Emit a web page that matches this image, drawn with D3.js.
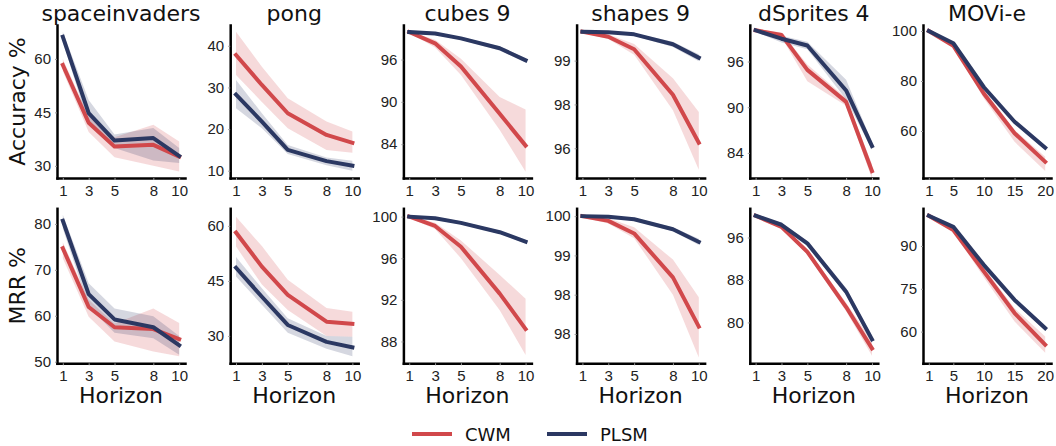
<!doctype html>
<html>
  <head>
    <meta charset="utf-8">
    <title>CWM vs PLSM</title>
    <script src="https://cdn.jsdelivr.net/npm/d3@7"></script>
    <style>
      html, body { margin:0; padding:0; overflow:hidden; background:#fff }
      svg { font-family: "DejaVu Sans", sans-serif; }
      .axis path { stroke:#000; stroke-width:2.5; stroke-linecap:square }
      .axis line { stroke:#999; stroke-width:1 }
      .axis text { font-size:15px; fill:#222 }
    </style>
  </head>
  <body>
    <div id="chart"></div>
    <script>
      var W = 1056, H = 446;
      var CWM_COLOR = "#d1484b", PLSM_COLOR = "#2b3862";

      var titles = ["spaceinvaders", "pong", "cubes 9", "shapes 9", "dSprites 4", "MOVi-e"];
      var rowLabels = ["Accuracy %", "MRR %"];
      var horizons = [
        [1, 3, 5, 8, 10], [1, 3, 5, 8, 10], [1, 3, 5, 8, 10],
        [1, 3, 5, 8, 10], [1, 3, 5, 8, 10], [1, 5, 10, 15, 20]
      ];

      // accuracy row
      var accCwm = [
        [58.3, 42.1, 35.4, 35.9, 32.6],
        [37.8, 30.6, 23.8, 18.6, 16.7],
        [99.9, 98.3, 95.0, 88.3, 83.8],
        [99.99, 99.82, 99.39, 97.83, 96.19],
        [100.1, 99.5, 94.9, 90.7, 81.6],
        [100.0, 94.1, 74.9, 59.1, 47.7]
      ];
      var accCwmLo = [
        [56.5, 39.5, 32.4, 30.0, 28.4],
        [33.0, 26.5, 20.2, 15.0, 14.3],
        [99.8, 97.7, 93.8, 86.0, 80.1],
        [99.95, 99.74, 99.2, 97.3, 95.26],
        [99.9, 99.2, 93.4, 90.2, 80.6],
        [99.8, 93.5, 73.0, 55.7, 44.0]
      ];
      var accCwmHi = [
        [60.0, 44.0, 38.0, 41.5, 36.8],
        [43.4, 35.0, 27.4, 21.8, 19.4],
        [100.0, 98.8, 96.1, 90.7, 88.9],
        [100.0, 99.9, 99.57, 98.4, 97.24],
        [100.3, 99.8, 95.6, 91.2, 82.5],
        [100.2, 94.7, 76.5, 60.4, 49.7]
      ];
      var accPlsm = [
        [66.2, 44.8, 37.1, 37.8, 32.8],
        [28.3, 21.8, 15.0, 12.3, 11.2],
        [99.9, 99.7, 99.0, 97.6, 95.9],
        [99.99, 99.97, 99.9, 99.56, 99.1],
        [100.1, 99.0, 98.1, 92.2, 84.9],
        [100.0, 95.1, 77.5, 63.7, 53.3]
      ];
      var accPlsmLo = [
        [64.8, 41.5, 35.0, 31.5, 30.8],
        [25.0, 20.2, 14.0, 11.3, 10.0],
        [99.8, 99.5, 98.8, 97.3, 95.6],
        [99.96, 99.93, 99.85, 99.47, 98.98],
        [99.9, 98.5, 97.6, 91.0, 84.4],
        [99.8, 94.6, 76.8, 62.9, 52.4]
      ];
      var accPlsmHi = [
        [67.6, 48.5, 38.8, 40.6, 35.0],
        [31.8, 23.8, 16.2, 13.2, 12.4],
        [100.0, 99.9, 99.2, 97.9, 96.2],
        [100.0, 100.0, 99.95, 99.65, 99.22],
        [100.3, 99.4, 98.6, 93.6, 85.4],
        [100.2, 95.6, 78.2, 64.5, 54.2]
      ];
      var accDomains = [[26.6, 69.5], [8.25, 45], [79.2, 100.9], [94.98, 100.22], [80.7, 100.8], [41.2, 102.4]];
      var accTicks = [[30, 45, 60], [10, 20, 30, 40], [84, 90, 96], [96, 97.5, 99], [84, 90, 96], [60, 80, 100]];
      var accTickLabels = [["30", "45", "60"], ["10", "20", "30", "40"], ["84", "90", "96"], ["96", "98", "99"], ["84", "90", "96"], ["60", "80", "100"]];

      // MRR row
      var mrrCwm = [
        [74.7, 61.9, 57.5, 57.1, 54.9],
        [58.2, 48.9, 41.2, 33.9, 33.3],
        [100, 99.1, 97.1, 92.6, 89.2],
        [100, 99.91, 99.67, 98.83, 97.89],
        [100.1, 98.0, 93.3, 82.9, 75.1],
        [100.6, 95.6, 81.0, 66.5, 55.4]
      ];
      var mrrCwmLo = [
        [72.5, 59.8, 54.4, 52.2, 51.2],
        [54.4, 44.0, 37.1, 30.0, 29.8],
        [99.9, 98.8, 96.0, 91.0, 86.7],
        [99.98, 99.86, 99.58, 98.5, 97.3],
        [99.9, 97.6, 92.8, 82.1, 73.7],
        [100.2, 95.0, 79.0, 63.5, 52.6]
      ];
      var mrrCwmHi = [
        [76.0, 63.5, 58.3, 61.6, 58.4],
        [62.5, 54.5, 45.3, 37.6, 36.6],
        [100.1, 99.4, 97.7, 94.4, 92.1],
        [100.02, 99.96, 99.79, 99.17, 98.45],
        [100.3, 98.4, 93.8, 83.7, 76.5],
        [101.0, 96.2, 82.5, 68.2, 58.3]
      ];
      var mrrPlsm = [
        [80.7, 64.7, 59.2, 57.5, 53.6],
        [48.6, 40.7, 33.0, 28.4, 26.9],
        [100, 99.84, 99.4, 98.5, 97.6],
        [100, 99.99, 99.94, 99.75, 99.51],
        [100.1, 98.4, 94.9, 85.8, 76.8],
        [100.6, 96.7, 83.3, 71.1, 61.2]
      ];
      var mrrPlsmLo = [
        [79.0, 62.0, 56.3, 55.1, 51.5],
        [46.2, 38.5, 30.9, 26.5, 24.5],
        [99.9, 99.7, 99.25, 98.35, 97.45],
        [99.98, 99.97, 99.91, 99.71, 99.45],
        [99.9, 98.0, 94.4, 85.1, 76.1],
        [100.2, 96.2, 82.6, 70.3, 60.3]
      ];
      var mrrPlsmHi = [
        [82.0, 67.1, 61.6, 59.9, 55.6],
        [51.5, 43.0, 34.8, 30.0, 29.8],
        [100.1, 99.95, 99.55, 98.65, 97.75],
        [100.02, 100.01, 99.97, 99.79, 99.57],
        [100.3, 98.8, 95.4, 86.5, 77.5],
        [101.0, 97.2, 84.0, 71.9, 62.1]
      ];
      var mrrDomains = [[49.65, 83.4], [22.55, 64.8], [85.9, 100.8], [97.19, 100.15], [72.3, 101.5], [48.9, 103.2]];
      var mrrTicks = [[50, 60, 70, 80], [30, 45, 60], [88, 92, 96, 100], [97.75, 98.5, 99.25, 100], [80, 88, 96], [60, 75, 90]];
      var mrrTickLabels = [["50", "60", "70", "80"], ["30", "45", "60"], ["88", "92", "96", "100"], ["98", "98", "99", "100"], ["80", "88", "96"], ["60", "75", "90"]];

      var rows = [
        {cwm: accCwm, cwmLo: accCwmLo, cwmHi: accCwmHi, plsm: accPlsm, plsmLo: accPlsmLo, plsmHi: accPlsmHi,
         domains: accDomains, ticks: accTicks, labels: accTickLabels, top: 25, bottom: 178},
        {cwm: mrrCwm, cwmLo: mrrCwmLo, cwmHi: mrrCwmHi, plsm: mrrPlsm, plsmLo: mrrPlsmLo, plsmHi: mrrPlsmHi,
         domains: mrrDomains, ticks: mrrTicks, labels: mrrTickLabels, top: 208.3, bottom: 363.3}
      ];

      var panelLeft0 = 57, panelStep = 173.2, panelW = 128;

      var svg = d3.select("#chart").append("svg")
        .attr("width", W).attr("height", H);

      rows.forEach(function(row, r) {
        titles.forEach(function(title, c) {
          var left = panelLeft0 + c * panelStep;
          var hs = horizons[c];
          var pad = (hs[hs.length - 1] - hs[0]) * 0.05;
          var x = d3.scaleLinear().domain([hs[0] - pad, hs[hs.length - 1] + pad]).range([left, left + panelW]);
          var y = d3.scaleLinear().domain(row.domains[c]).range([row.bottom, row.top]);
          var g = svg.append("g");

          var series = [
            {mean: row.cwm[c], lo: row.cwmLo[c], hi: row.cwmHi[c], color: CWM_COLOR},
            {mean: row.plsm[c], lo: row.plsmLo[c], hi: row.plsmHi[c], color: PLSM_COLOR}
          ];

          var area = d3.area()
            .x(function(d) { return x(d.h); })
            .y0(function(d) { return y(d.lo); })
            .y1(function(d) { return y(d.hi); });
          var line = d3.line()
            .x(function(d) { return x(d.h); })
            .y(function(d) { return y(d.m); });

          series.forEach(function(s) {
            var pts = hs.map(function(h, i) { return {h: h, m: s.mean[i], lo: s.lo[i], hi: s.hi[i]}; });
            g.append("path").attr("d", area(pts))
              .attr("fill", s.color).attr("fill-opacity", 0.2).attr("stroke", "none");
          });
          series.forEach(function(s) {
            var pts = hs.map(function(h, i) { return {h: h, m: s.mean[i]}; });
            g.append("path").attr("d", line(pts))
              .attr("fill", "none").attr("stroke", s.color).attr("stroke-width", 4)
              .attr("stroke-linejoin", "round").attr("stroke-linecap", "square");
          });

          var labels = row.labels[c];
          var ticks = row.ticks[c];
          g.append("g").attr("class", "axis")
            .attr("transform", "translate(" + left + ",0)")
            .call(d3.axisLeft(y).tickValues(ticks).tickSize(2).tickSizeOuter(0).tickPadding(4)
              .tickFormat(function(d, i) { return labels[i]; }))
            .call(function(a) { a.selectAll("text").attr("font-family", null); });

          g.append("g").attr("class", "axis")
            .attr("transform", "translate(0," + row.bottom + ")")
            .call(d3.axisBottom(x).tickValues(hs).tickSize(2).tickSizeOuter(0).tickPadding(4).tickFormat(d3.format("d")))
            .call(function(a) { a.selectAll("text").attr("font-family", null).attr("dy", "0.8em"); });

          if (r === 0) {
            svg.append("text").attr("x", left + panelW / 2).attr("y", 21)
              .attr("text-anchor", "middle").style("font-size", "22px").attr("fill", "#111")
              .text(title);
          } else {
            svg.append("text").attr("x", left + panelW / 2).attr("y", 403)
              .attr("text-anchor", "middle").style("font-size", "22px").attr("fill", "#111")
              .text("Horizon");
          }
          if (c === 0) {
            var cy = (row.top + row.bottom) / 2;
            svg.append("text")
              .attr("transform", "translate(25," + cy + ") rotate(-90)")
              .attr("text-anchor", "middle").style("font-size", "22px").attr("fill", "#111")
              .text(rowLabels[r]);
          }
        });
      });

      // legend
      var legendItems = [{name: "CWM", color: CWM_COLOR, x: 412}, {name: "PLSM", color: PLSM_COLOR, x: 547}];
      var lg = svg.append("g");
      legendItems.forEach(function(it) {
        lg.append("line").attr("x1", it.x).attr("x2", it.x + 40).attr("y1", 434).attr("y2", 434)
          .attr("stroke", it.color).attr("stroke-width", 4);
        lg.append("text").attr("x", it.x + 53).attr("y", 441).style("font-size", "18px").attr("fill", "#111")
          .text(it.name);
      });
    </script>
  </body>
</html>
